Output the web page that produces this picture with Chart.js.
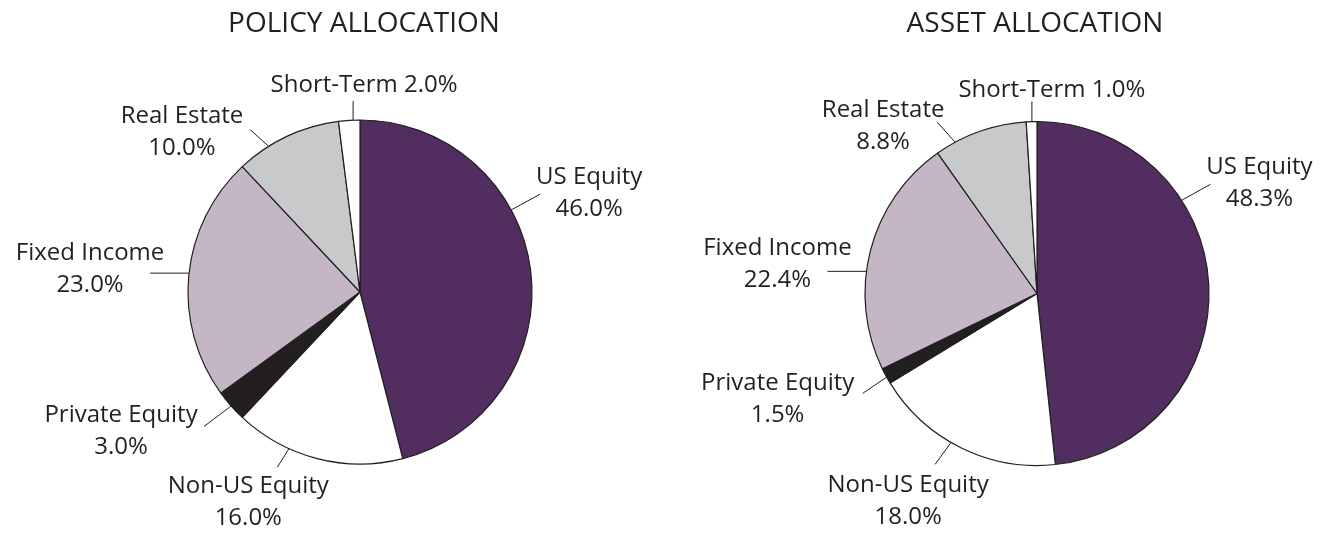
<!DOCTYPE html>
<html>
<head>
<meta charset="utf-8">
<title>Policy vs Asset Allocation</title>
<script src="https://cdn.jsdelivr.net/npm/chart.js@4.4.1/dist/chart.umd.min.js"></script>
<style>
  body { margin: 0; background: #fff; }
  #wrap { position: relative; width: 1338px; height: 533px; overflow: hidden; }
  .box { position: absolute; top: 0; width: 669px; height: 533px; }
</style>
</head>
<body>
<div id="wrap">
  <div class="box" style="left:0"><canvas id="policyChart" width="669" height="533"></canvas></div>
  <div class="box" style="left:669px"><canvas id="assetChart" width="669" height="533"></canvas></div>
</div>
<script>
// ---- data ----
var categories   = ['US Equity', 'Non-US Equity', 'Private Equity', 'Fixed Income', 'Real Estate', 'Short-Term'];
var policyValues = [46.0, 16.0, 3.0, 23.0, 10.0, 2.0];
var assetValues  = [48.3, 18.0, 1.5, 22.4, 8.8, 1.0];
var chartTitles  = ['POLICY ALLOCATION', 'ASSET ALLOCATION'];

var sliceColors = ['#522d5f', '#ffffff', '#231f20', '#c5b6c6', '#c8c9cb', '#ffffff'];
var INK = '#231f20';
var FONT = '"Open Sans", "DejaVu Sans", sans-serif';

// leader lines: rim = angle on the pie edge (deg, clockwise from top),
// dir = direction of the line, len = its length, dx/dy = text offset from line end
var policyLabels = [
  { rim: 61.5,  dir: 61.5,  len: 33, dx: 49,  dy: -10 },
  { rim: 204.4, dir: 212,   len: 22, dx: -29, dy: 26 },
  { rim: 228.5, dir: 233,   len: 34, dx: -83, dy: -4 },
  { rim: 276.3, dir: 270,   len: 39, dx: -60, dy: -13 },
  { rim: 327.9, dir: 312,   len: 25, dx: -68, dy: -7 },
  { rim: 357.7, dir: 0,     len: 19, dx: 11,  dy: -9, oneLine: true }
];
var assetLabels = [
  { rim: 57.2,  dir: 61,    len: 33, dx: 49,  dy: -10 },
  { rim: 210,   dir: 216,   len: 27, dx: -27, dy: 28 },
  { rim: 240.9, dir: 236,   len: 29, dx: -85, dy: -3 },
  { rim: 277.4, dir: 270,   len: 39, dx: -50, dy: -16 },
  { rim: 331.6, dir: 318,   len: 27, dx: -54, dy: -5 },
  { rim: 358.3, dir: 0,     len: 20, dx: 20,  dy: -5, oneLine: true }
];

function rad(d) { return d * Math.PI / 180; }

var calloutPlugin = {
  id: 'callouts',
  afterDraw: function (chart) {
    var o = chart.options.plugins.callouts;
    var arc = chart.getDatasetMeta(0).data[0];
    var cx = arc.x, cy = arc.y, r = arc.outerRadius;
    var vals = chart.data.datasets[0].data;
    var ctx = chart.ctx;
    ctx.save();
    ctx.fillStyle = INK;
    ctx.strokeStyle = INK;
    ctx.lineWidth = 1;
    ctx.textAlign = 'center';
    ctx.textBaseline = 'alphabetic';

    ctx.font = '28px ' + FONT;
    ctx.fillText(o.title, cx + o.titleDx, 32);

    ctx.font = '24px ' + FONT;
    o.layout.forEach(function (l, i) {
      var sx = cx + r * Math.sin(rad(l.rim));
      var sy = cy - r * Math.cos(rad(l.rim));
      var ex = sx + l.len * Math.sin(rad(l.dir));
      var ey = sy - l.len * Math.cos(rad(l.dir));
      ctx.beginPath();
      ctx.moveTo(sx, sy);
      ctx.lineTo(ex, ey);
      ctx.stroke();
      var pct = vals[i].toFixed(1) + '%';
      if (l.oneLine) {
        ctx.fillText(categories[i] + ' ' + pct, ex + l.dx, ey + l.dy);
      } else {
        ctx.fillText(categories[i], ex + l.dx, ey + l.dy);
        ctx.fillText(pct, ex + l.dx, ey + l.dy + 32);
      }
    });
    ctx.restore();
  }
};

function makePie(id, values, title, labels, pad, titleDx) {
  return new Chart(document.getElementById(id), {
    type: 'pie',
    data: {
      labels: categories,
      datasets: [{
        data: values,
        backgroundColor: sliceColors,
        borderColor: INK,
        borderWidth: 1.2,
        radius: 172
      }]
    },
    options: {
      responsive: false,
      animation: false,
      events: [],
      layout: { padding: pad },
      plugins: {
        legend: { display: false },
        tooltip: { enabled: false },
        callouts: { title: title, layout: labels, titleDx: titleDx }
      }
    },
    plugins: [calloutPlugin]
  });
}

makePie('policyChart', policyValues, chartTitles[0], policyLabels, { left: 51, top: 51 }, 4);
makePie('assetChart', assetValues, chartTitles[1], assetLabels, { left: 67, top: 54 }, -2);
</script>
</body>
</html>
